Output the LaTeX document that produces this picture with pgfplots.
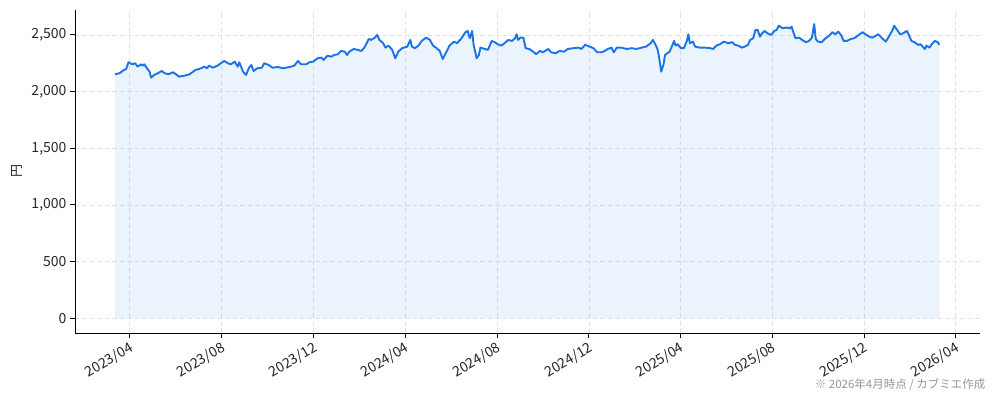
\documentclass[border=0pt]{standalone}
\usepackage{pgfplots}
\pgfplotsset{compat=1.18}
\usepackage{pgfplotstable}
\usepackage{fontspec}
\setmainfont{Noto Sans CJK JP}

\definecolor{lineblue}{RGB}{26,115,232}
\definecolor{gridgray}{RGB}{226,226,226}
\definecolor{notegray}{RGB}{150,150,150}

% x = days since 2023-01-01, y = price (yen)
\pgfplotstableread{
x y
71 2153
77 2162
83 2191
86 2200
89 2259
94 2241
98 2250
101 2220
106 2241
108 2229
110 2241
113 2211
117 2176
119 2123
123 2147
128 2162
133 2182
137 2162
142 2153
148 2170
152 2153
156 2132
163 2140
170 2153
178 2191
183 2200
190 2220
193 2206
196 2229
201 2211
207 2229
216 2270
221 2250
225 2241
230 2264
234 2220
236 2259
241 2176
245 2147
249 2211
252 2235
255 2182
260 2206
266 2211
269 2250
275 2235
280 2211
287 2217
294 2206
303 2217
309 2229
314 2270
318 2241
325 2241
329 2259
334 2264
340 2294
345 2300
348 2279
353 2317
358 2308
362 2323
367 2330
371 2359
376 2352
379 2323
382 2352
388 2376
393 2368
398 2359
402 2388
408 2465
411 2456
416 2476
419 2500
422 2456
427 2427
430 2388
434 2406
439 2368
443 2294
447 2352
452 2383
459 2397
463 2456
465 2397
469 2383
474 2406
478 2447
484 2476
489 2456
493 2406
497 2388
502 2359
506 2288
511 2352
515 2406
521 2441
525 2427
531 2471
536 2524
539 2535
542 2471
545 2535
547 2412
551 2294
554 2323
556 2388
562 2376
566 2368
571 2447
575 2436
579 2418
584 2406
588 2427
593 2456
598 2447
602 2471
604 2506
606 2456
609 2476
613 2476
616 2383
621 2376
626 2352
630 2330
635 2359
639 2347
646 2376
650 2347
656 2338
661 2359
667 2352
672 2376
679 2383
686 2388
690 2376
695 2412
701 2397
706 2383
711 2347
717 2347
721 2359
725 2376
730 2388
733 2347
737 2388
743 2388
750 2376
757 2383
763 2376
770 2388
776 2397
782 2427
785 2456
788 2418
791 2376
793 2308
796 2176
799 2241
801 2323
804 2338
807 2352
810 2397
813 2447
815 2406
818 2418
822 2383
826 2383
830 2447
832 2506
834 2427
838 2441
841 2397
847 2388
854 2388
861 2383
865 2376
869 2406
874 2418
879 2441
885 2427
890 2436
894 2412
898 2406
903 2388
907 2397
911 2412
914 2456
918 2471
921 2544
924 2544
927 2485
930 2515
933 2535
937 2515
942 2500
946 2535
949 2544
952 2582
957 2559
962 2565
967 2559
969 2573
971 2529
974 2471
979 2476
983 2456
988 2436
992 2447
996 2476
999 2595
1001 2465
1004 2441
1009 2436
1013 2465
1019 2494
1023 2524
1027 2506
1031 2529
1035 2494
1038 2447
1042 2447
1048 2465
1052 2471
1057 2494
1063 2524
1067 2506
1072 2485
1076 2476
1081 2494
1084 2506
1089 2471
1094 2441
1098 2485
1103 2544
1105 2582
1109 2544
1113 2506
1117 2515
1122 2535
1125 2494
1128 2447
1132 2436
1137 2412
1140 2418
1143 2397
1146 2376
1148 2406
1152 2388
1155 2418
1159 2447
1163 2436
1165 2412
}\pricedata

\begin{document}
\begin{tikzpicture}
\begin{axis}[
    scale only axis,
    width=905pt, height=323pt,
    xmin=18, xmax=1219,
    ymin=-130, ymax=2720,
    axis x line*=bottom,
    axis y line*=left,
    axis line style={-, line width=0.9pt, black},
    tick align=outside,
    major tick length=5pt,
    tick style={line width=0.9pt, black},
    xtick={90,212,334,456,578,700,821,943,1065,1186},
    xticklabels={2023/04,2023/08,2023/12,2024/04,2024/08,2024/12,2025/04,2025/08,2025/12,2026/04},
    ytick={0,500,1000,1500,2000,2500},
    /pgf/number format/1000 sep={,},
    /pgf/number format/assume math mode=true,
    ticklabel style={font=\fontsize{14}{16}\selectfont, color=black!85},
    xticklabel style={rotate=30, anchor=north east, xshift=1pt, yshift=1pt},
    ylabel={円},
    ylabel style={font=\fontsize{13}{15}\selectfont, color=black!85, yshift=2pt},
    xmajorgrids=true,
    ymajorgrids=true,
    grid style={gridgray, line width=0.8pt, dash pattern=on 4.5pt off 3pt},
]
\addplot[draw=none, fill=lineblue, fill opacity=0.085] table[x=x, y=y] {\pricedata} \closedcycle;
\addplot[lineblue, line width=1.9pt, line join=round] table[x=x, y=y] {\pricedata};
\end{axis}
\node[anchor=base east, font=\fontsize{11.5}{13}\selectfont, color=notegray] at (914pt,-56pt) {※ 2026年4月時点 / カブミエ作成};
\pgfresetboundingbox
\path[use as bounding box] (-75pt,-68pt) rectangle (919pt,333pt);
\end{tikzpicture}
\end{document}
